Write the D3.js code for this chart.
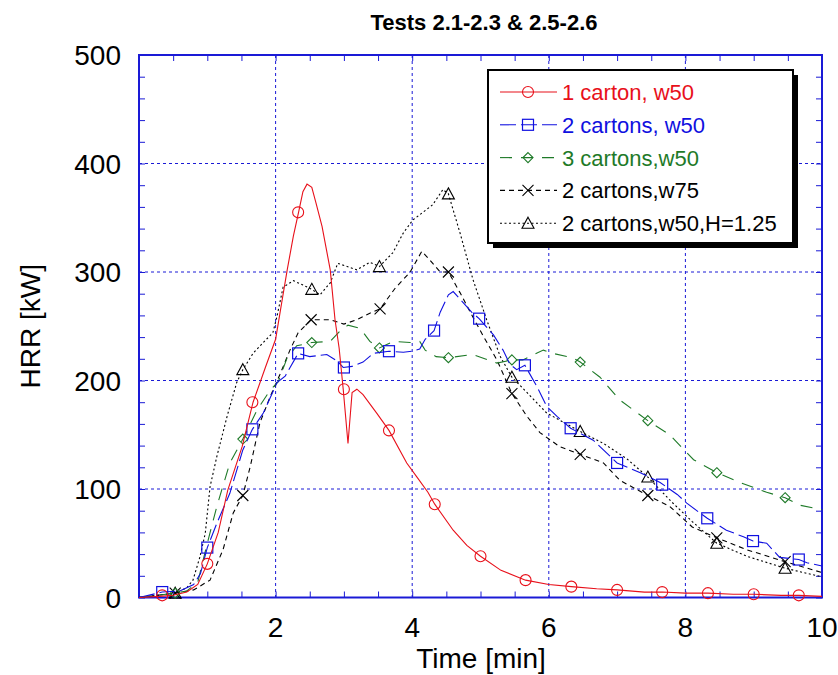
<!DOCTYPE html>
<html>
<head>
<meta charset="utf-8">
<script src="https://cdn.jsdelivr.net/npm/d3@7"></script>
<style>
  body { margin: 0; background: #fff; }
  text { font-family: "Liberation Sans", Arial, sans-serif; }
</style>
</head>
<body>
<script>
// time [min] / HRR [kW]
const red_t = [0,0.3,0.5,0.7,0.86,1.0,1.16,1.3,1.51,1.67,1.85,2.0,2.09,2.17,2.26,2.34,2.40,2.46,2.53,2.59,2.68,2.80,2.87,2.93,2.99,3.06,3.12,3.19,3.28,3.48,3.66,3.92,4.07,4.23,4.33,4.6,4.8,5.0,5.3,5.66,6.0,6.33,6.7,7.0,7.4,7.66,8.0,8.33,8.7,9.0,9.4,9.66,10];
const red_v = [0,1,2,5,12,31,60,99,139,180,212,238,272,302,333,356,374,381,378,364,342,302,256,230,192,142,189,192,187,170,154,124,111,97,86,62,48,38,25,16,12,10,8,7,5,5,4,4,3,3,2,2,1];
const red_mt = [0.34,1.0,1.66,2.33,3.0,3.66,4.33,5.0,5.66,6.33,7.0,7.66,8.33,9.0,9.66];
const red_mv = [2,31,180,355,192,154,86,38,16,10,7,5,4,3,2];

const blue_t = [0,0.34,0.6,0.8,0.9,1.0,1.15,1.33,1.52,1.66,1.82,2.02,2.14,2.33,2.5,2.75,2.9,2.99,3.12,3.28,3.43,3.66,3.87,4.0,4.11,4.19,4.32,4.41,4.53,4.6,4.70,4.87,4.98,5.19,5.33,5.43,5.53,5.65,5.83,5.97,6.12,6.32,6.65,6.9,7.0,7.34,7.63,7.88,8.02,8.21,8.32,8.6,8.85,8.99,9.19,9.38,9.66,9.78,10];
const blue_v = [0,5,6,12,22,46,70,96,136,155,170,198,204,225,222,224,218,212,213,217,225,227,226,227,229,238,246,263,279,282,275,263,257,242,228,215,210,214,194,176,167,156,145,130,124,115,106,95,87,78,73,62,56,52,50,37,35,32,29];
const blue_mt = [0.34,1.0,1.66,2.33,3.0,3.66,4.32,4.98,5.65,6.32,7.0,7.66,8.32,8.99,9.66];
const blue_mv = [5,46,155,225,212,227,246,257,214,156,124,104,73,52,35];

const green_t = [0,0.53,0.7,0.86,1.0,1.14,1.33,1.52,1.73,1.92,2.04,2.17,2.31,2.53,2.80,2.95,3.06,3.24,3.38,3.52,3.72,3.97,4.11,4.19,4.35,4.53,4.89,5.24,5.46,5.62,5.92,6.06,6.35,6.46,6.75,7.04,7.45,7.77,8.12,8.46,8.8,9.19,9.46,9.68,10];
const green_v = [0,4,6,14,50,84,124,146,173,191,199,221,232,235,236,246,251,248,236,230,236,235,236,228,222,221,224,216,219,219,228,225,221,217,203,182,163,150,127,115,106,97,92,85,81];
const green_mt = [0.53,1.52,2.53,3.52,4.53,5.46,6.46,7.45,8.46,9.46];
const green_mv = [4,146,235,230,221,219,217,163,115,92];

const w75_t = [0,0.53,0.8,1.04,1.23,1.38,1.52,1.63,1.77,1.92,2.06,2.21,2.33,2.52,2.8,3.0,3.19,3.38,3.53,3.75,3.97,4.14,4.26,4.41,4.53,4.70,4.85,5.04,5.24,5.46,5.68,5.87,6.16,6.46,6.8,7.04,7.45,7.77,8.1,8.46,8.9,9.46,10];
const w75_v = [0,4,7,16,44,78,94,121,161,185,205,228,244,256,256,252,256,262,266,285,300,319,311,300,300,281,263,241,219,188,167,152,139,132,124,108,94,84,65,55,44,33,23];
const w75_mt = [0.53,1.52,2.52,3.53,4.53,5.46,6.46,7.45,8.46,9.46];
const w75_mv = [4,94,256,266,300,188,132,94,55,33];

const h125_t = [0,0.53,0.7,0.79,0.89,0.97,1.04,1.14,1.29,1.43,1.52,1.67,1.82,1.96,2.02,2.11,2.26,2.4,2.53,2.65,2.80,2.91,3.19,3.38,3.52,3.72,3.87,4.01,4.22,4.3,4.45,4.53,4.70,4.89,5.09,5.29,5.46,5.68,5.97,6.46,6.8,7.14,7.45,7.8,8.1,8.46,8.9,9.46,10];
const h125_v = [0,4,9,16,37,59,102,130,167,198,210,225,235,244,259,286,292,288,284,279,290,308,302,309,305,318,336,348,358,362,376,372,336,293,256,222,203,189,170,153,142,128,111,88,70,50,38,27,19];
const h125_mt = [0.53,1.52,2.53,3.52,4.53,5.46,6.46,7.45,8.46,9.46];
const h125_mv = [4,210,284,305,372,203,153,111,50,27];

const seriesNames = ["1 carton, w50", "2 cartons, w50", "3 cartons,w50", "2 cartons,w75", "2 cartons,w50,H=1.25"];
const xTicks = [2,4,6,8,10];
const yTicks = [0,100,200,300,400,500];

const series = [
  {name: seriesNames[0], t: red_t, v: red_v, mt: red_mt, mv: red_mv, color: "#e8101a", dash: null, mark: "circle"},
  {name: seriesNames[1], t: blue_t, v: blue_v, mt: blue_mt, mv: blue_mv, color: "#1010e0", dash: "16,5", mark: "square"},
  {name: seriesNames[2], t: green_t, v: green_v, mt: green_mt, mv: green_mv, color: "#1e7a28", dash: "12,9", mark: "diamond"},
  {name: seriesNames[3], t: w75_t, v: w75_v, mt: w75_mt, mv: w75_mv, color: "#000", dash: "5,4", mark: "cross"},
  {name: seriesNames[4], t: h125_t, v: h125_v, mt: h125_mt, mv: h125_mv, color: "#000", dash: "2,2.5", mark: "triangle"}
];

const W = 838, H = 675;
const pLeft = 139, pRight = 822, pTop = 55, pBottom = 597.5;
const axisBlue = "#1a1ad6";

const svg = d3.select("body").append("svg").attr("width", W).attr("height", H);

const x = d3.scaleLinear().domain([0, 10]).range([pLeft, pRight]);
const y = d3.scaleLinear().domain([0, 500]).range([pBottom, pTop]);

// title
svg.append("text")
  .attr("x", 484).attr("y", 30)
  .attr("text-anchor", "middle")
  .style("font-family", "'Liberation Sans Narrow', 'Arial Narrow', 'Liberation Sans', sans-serif")
  .style("font-weight", "bold").style("font-size", "22px")
  .text("Tests 2.1-2.3 & 2.5-2.6");

// grid
svg.append("g").selectAll("line").data(xTicks.filter(d => d < 10)).enter().append("line")
  .attr("x1", d => x(d)).attr("x2", d => x(d)).attr("y1", pTop).attr("y2", pBottom)
  .attr("stroke", axisBlue).attr("stroke-width", 1).attr("stroke-dasharray", "3,3");
svg.append("g").selectAll("line").data(yTicks.filter(d => d > 0 && d < 500)).enter().append("line")
  .attr("x1", pLeft).attr("x2", pRight).attr("y1", d => y(d)).attr("y2", d => y(d))
  .attr("stroke", axisBlue).attr("stroke-width", 1).attr("stroke-dasharray", "3,3");

// axes with inward ticks, minor every 0.5 min / 20 kW
const xMinor = d3.range(0, 10.01, 0.5);
const yMinor = d3.range(0, 501, 20);
function axisLines(g, scale, ticks, len, orient) {
  g.call(orient(scale).tickValues(ticks).tickSize(len).tickFormat(""))
    .call(s => s.select(".domain").remove())
    .selectAll("line").attr("stroke", axisBlue);
}
svg.append("g").attr("transform", `translate(0,${pBottom})`).call(g => axisLines(g, x, xMinor, -6, d3.axisBottom));
svg.append("g").attr("transform", `translate(0,${pTop})`).call(g => axisLines(g, x, xMinor, -6, d3.axisTop));
svg.append("g").attr("transform", `translate(${pLeft},0)`).call(g => axisLines(g, y, yMinor, -6, d3.axisLeft));
svg.append("g").attr("transform", `translate(${pRight},0)`).call(g => axisLines(g, y, yMinor, -6, d3.axisRight));

// frame
svg.append("rect").attr("x", pLeft).attr("y", pTop).attr("width", pRight - pLeft).attr("height", pBottom - pTop)
  .attr("fill", "none").attr("stroke", axisBlue).attr("stroke-width", 2);

// tick labels
svg.append("g").selectAll("text").data(yTicks).enter().append("text")
  .attr("x", 121).attr("y", d => y(d) + 10)
  .attr("text-anchor", "end").style("font-size", "28px")
  .text(d => d);
svg.append("g").selectAll("text").data(xTicks).enter().append("text")
  .attr("x", d => x(d)).attr("y", 637)
  .attr("text-anchor", "middle").style("font-size", "28px")
  .text(d => d);

// axis titles
svg.append("text").attr("x", 481).attr("y", 668)
  .attr("text-anchor", "middle").style("font-size", "28px").text("Time [min]");
svg.append("text").attr("transform", `translate(40,${(pTop + pBottom) / 2}) rotate(-90)`)
  .attr("text-anchor", "middle").style("font-size", "28px").text("HRR [kW]");

// markers
function drawMark(g, kind, cx, cy, color) {
  if (kind === "circle") {
    g.append("circle").attr("cx", cx).attr("cy", cy).attr("r", 5.5)
      .attr("fill", "none").attr("stroke", color).attr("stroke-width", 1.1);
  } else if (kind === "square") {
    g.append("rect").attr("x", cx - 5.5).attr("y", cy - 5.5).attr("width", 11).attr("height", 11)
      .attr("fill", "none").attr("stroke", color).attr("stroke-width", 1.2);
  } else if (kind === "diamond") {
    g.append("path").attr("d", `M${cx},${cy - 5}L${cx + 5},${cy}L${cx},${cy + 5}L${cx - 5},${cy}Z`)
      .attr("fill", "none").attr("stroke", color).attr("stroke-width", 1.1);
  } else if (kind === "cross") {
    g.append("path").attr("d", `M${cx - 5.5},${cy - 5.5}L${cx + 5.5},${cy + 5.5}M${cx - 5.5},${cy + 5.5}L${cx + 5.5},${cy - 5.5}`)
      .attr("fill", "none").attr("stroke", color).attr("stroke-width", 1.1);
  } else if (kind === "triangle") {
    g.append("path").attr("d", `M${cx},${cy - 6}L${cx + 6},${cy + 5}L${cx - 6},${cy + 5}Z`)
      .attr("fill", "none").attr("stroke", color).attr("stroke-width", 1.1);
  }
}

const line = d3.line().x(d => x(d[0])).y(d => y(d[1])).curve(d3.curveLinear);
const plot = svg.append("g");

series.slice().reverse().forEach(s => {
  const pts = s.t.map((t, i) => [t, s.v[i]]);
  plot.append("path").datum(pts).attr("d", line)
    .attr("fill", "none").attr("stroke", s.color).attr("stroke-width", 1.1)
    .attr("stroke-dasharray", s.dash);
  const mg = plot.append("g");
  s.mt.forEach((t, i) => drawMark(mg, s.mark, x(t), y(s.mv[i]), s.color));
});

// legend
const lg = svg.append("g");
const lx = 488, ly = 70, lw = 305, lh = 173;
lg.append("rect").attr("x", lx + 5).attr("y", ly + 5).attr("width", lw).attr("height", lh).attr("fill", "#000");
lg.append("rect").attr("x", lx).attr("y", ly).attr("width", lw).attr("height", lh)
  .attr("fill", "#fff").attr("stroke", "#000").attr("stroke-width", 2);

series.forEach((s, i) => {
  const cy = 92 + i * 32.8;
  lg.append("line").attr("x1", 500).attr("x2", 557).attr("y1", cy).attr("y2", cy)
    .attr("stroke", s.color).attr("stroke-width", 1.1).attr("stroke-dasharray", s.dash);
  drawMark(lg, s.mark, 528, cy, s.color);
  lg.append("text").attr("x", 562).attr("y", cy + 8)
    .style("font-size", "22px").attr("fill", s.color)
    .text(s.name);
});
</script>
</body>
</html>
